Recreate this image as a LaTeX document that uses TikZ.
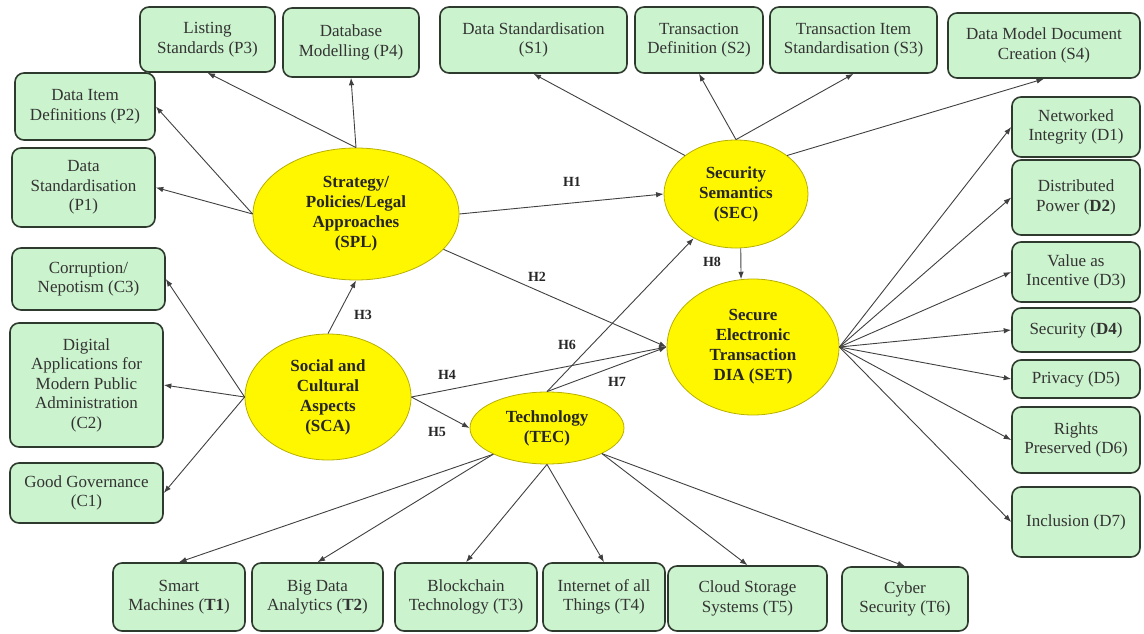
\documentclass[tikz,border=0pt]{standalone}
\usepackage{fontspec}
\setmainfont{Liberation Serif}
\usetikzlibrary{shapes.geometric,arrows.meta}
\definecolor{boxfill}{HTML}{CBF3CD}
\definecolor{boxline}{HTML}{2E3A2E}
\definecolor{ellfill}{HTML}{FFF700}
\definecolor{ellline}{HTML}{B8B000}
\definecolor{arrcol}{HTML}{404040}
\definecolor{txtcol}{HTML}{333333}
\begin{document}
\begin{tikzpicture}[x=1pt,y=-1pt,
  box/.style={draw=boxline, line width=1.6pt, fill=boxfill, rounded corners=9pt,
    align=center, inner sep=0pt, text=txtcol,
    font=\fontsize{17}{19.5}\selectfont},
  ell/.style={ellipse, draw=ellline, line width=0.8pt, fill=ellfill, align=center,
    inner sep=0pt, text=black!85, font=\fontsize{17}{20}\selectfont\bfseries},
  conn/.style={draw=arrcol, line width=0.9pt, -{Latex[length=7.5pt,width=5.5pt]}},
  hlab/.style={font=\fontsize{14}{16}\selectfont\bfseries, text=black!85, inner sep=0pt}]
\useasboundingbox (0,0) rectangle (1144,634);
% top row
\node[box, minimum width=135pt, minimum height=65pt] (P3) at (207.5,39.5) {Listing\\Standards (P3)};
\node[box, minimum width=136pt, minimum height=69pt] (P4) at (351,42.5) {Database\\Modelling (P4)};
\node[box, minimum width=187pt, minimum height=66pt] (S1) at (533.5,40) {Data Standardisation\\(S1)};
\node[box, minimum width=128pt, minimum height=66pt] (S2) at (699,40) {Transaction\\Definition (S2)};
\node[box, minimum width=167pt, minimum height=66pt] (S3) at (853.5,40) {Transaction Item\\Standardisation (S3)};
\node[box, minimum width=192pt, minimum height=65pt] (S4) at (1044,45.5) {Data Model Document\\Creation (S4)};
% left column
\node[box, minimum width=140pt, minimum height=67pt] (P2) at (85,106.5) {Data Item\\Definitions (P2)};
\node[box, minimum width=143pt, minimum height=79pt] (P1) at (83.5,187.5) {Data\\Standardisation\\(P1)};
\node[box, minimum width=153pt, minimum height=62pt] (C3) at (88.5,279) {Corruption/\\Nepotism (C3)};
\node[box, minimum width=153pt, minimum height=124pt] (C2) at (86.5,385) {Digital\\Applications for\\Modern Public\\Administration\\(C2)};
\node[box, minimum width=153pt, minimum height=60pt] (C1) at (86.5,493) {Good Governance\\(C1)};
% right column
\node[box, minimum width=128pt, minimum height=60pt] (D1) at (1076,127) {Networked\\Integrity (D1)};
\node[box, minimum width=128pt, minimum height=75pt] (D2) at (1076,197.5) {Distributed\\Power (\textbf{D2})};
\node[box, minimum width=128pt, minimum height=60pt] (D3) at (1076,272) {Value as\\Incentive (D3)};
\node[box, minimum width=128pt, minimum height=44pt] (D4) at (1076,330) {Security (\textbf{D4})};
\node[box, minimum width=128pt, minimum height=38pt] (D5) at (1076,379) {Privacy (D5)};
\node[box, minimum width=128pt, minimum height=66pt] (D6) at (1076,440) {Rights\\Preserved (D6)};
\node[box, minimum width=128pt, minimum height=70pt] (D7) at (1076,522) {Inclusion (D7)};
% bottom row
\node[box, minimum width=132pt, minimum height=68pt] (T1) at (179,597) {Smart\\Machines (\textbf{T1})};
\node[box, minimum width=131pt, minimum height=68pt] (T2) at (317.5,597) {Big Data\\Analytics (\textbf{T2})};
\node[box, minimum width=142pt, minimum height=68pt] (T3) at (466,597) {Blockchain\\Technology (T3)};
\node[box, minimum width=122pt, minimum height=68pt] (T4) at (604,597) {Internet of all\\Things (T4)};
\node[box, minimum width=159pt, minimum height=65pt] (T5) at (747.5,598.5) {Cloud Storage\\Systems (T5)};
\node[box, minimum width=126pt, minimum height=64pt] (T6) at (905,599) {Cyber\\Security (T6)};
% ellipses
\node[ell, minimum width=206pt, minimum height=132pt] (SPL) at (356,214) {Strategy/\\Policies/Legal\\Approaches\\(SPL)};
\node[ell, minimum width=144pt, minimum height=108pt] (SEC) at (736,194) {Security\\Semantics\\(SEC)};
\node[ell, minimum width=172pt, minimum height=136pt] (SET) at (753,347) {Secure\\Electronic\\Transaction\\DIA (SET)};
\node[ell, minimum width=166pt, minimum height=126pt] (SCA) at (328,397) {Social and\\Cultural\\Aspects\\(SCA)};
\node[ell, minimum width=154pt, minimum height=72pt] (TEC) at (547,428) {Technology\\(TEC)};
% SPL indicators
\draw[conn] (SPL.north) -- (P3.south);
\draw[conn] (SPL.north) -- (P4.south);
\draw[conn] (SPL.west) -- (P2.east);
\draw[conn] (SPL.west) -- (P1.east);
% SEC indicators
\draw[conn] (SEC.143) -- (S1.south);
\draw[conn] (SEC.north) -- (S2.south);
\draw[conn] (SEC.north) -- (S3.south);
\draw[conn] (SEC.37) -- (S4.south);
% SET indicators
\foreach \d in {D1,D2,D3,D4,D5,D6,D7} \draw[conn] (SET.east) -- (\d.west);
% SCA indicators
\foreach \c in {C3,C2,C1} \draw[conn] (SCA.west) -- (\c.east);
% TEC indicators
\draw[conn] (TEC.206) -- (T1.north);
\draw[conn] (TEC.206) -- (T2.north);
\draw[conn] (TEC.south) -- (T3.north);
\draw[conn] (TEC.south) -- (T4.north);
\draw[conn] (TEC.-25) -- (T5.north);
\draw[conn] (TEC.-25) -- (T6.north);
% hypotheses
\draw[conn] (SPL.east) -- (SEC.west);
\draw[conn] (SPL.-22) -- (SET.west);
\draw[conn] (SCA.north) -- (SPL.south);
\draw[conn] (SCA.east) -- (SET.west);
\draw[conn] (SCA.east) -- (TEC.west);
\draw[conn] (TEC.north) -- (SEC);
\draw[conn] (TEC.north) -- (SET.west);
\draw[conn] (SEC.-85) -- (SET.100);
\node[hlab] (h1) at (572,182) {H1};
\node[hlab] (h2) at (537,277) {H2};
\node[hlab] (h3) at (363,315) {H3};
\node[hlab] (h4) at (447,375) {H4};
\node[hlab] (h5) at (437,432) {H5};
\node[hlab] (h6) at (567,345) {H6};
\node[hlab] (h7) at (617,382) {H7};
\node[hlab] (h8) at (712,262) {H8};
\end{tikzpicture}
\end{document}
